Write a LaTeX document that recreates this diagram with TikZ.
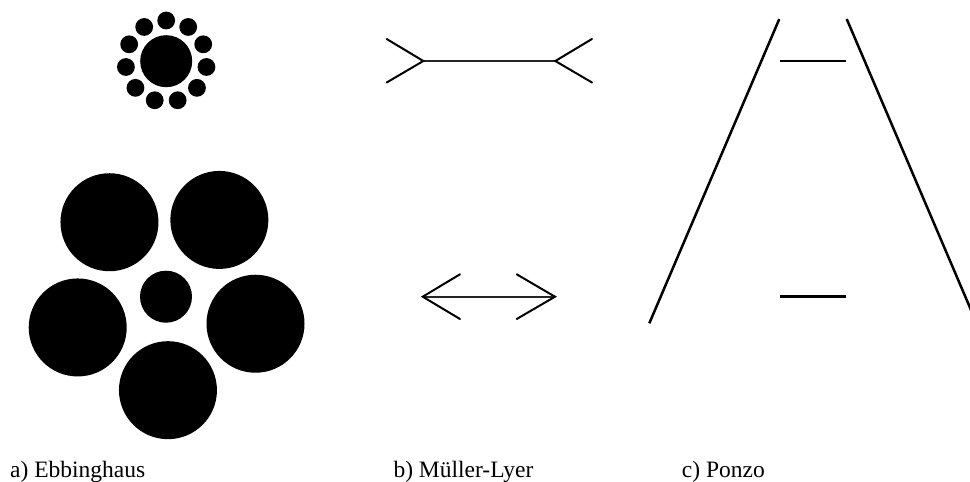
\documentclass[tikz,border=0pt]{standalone}
\usepackage{fontspec}
\setmainfont{Liberation Serif}
\begin{document}
\begin{tikzpicture}[x=1pt,y=-1pt,
  fig/.style={line width=2pt,line cap=round},
  shaft/.style={line width=1.8pt,black!85},
  bar/.style={line width=2.5pt},
  lbl/.style={anchor=base west,inner sep=0pt,font=\fontsize{23.5}{28}\selectfont}]
\useasboundingbox (0,0) rectangle (970,482);
\clip (0,0) rectangle (970,482);
% a) Ebbinghaus, small surround
\fill (166.2,61.2) circle (26);
\foreach \k in {0,...,10}{
  \fill (166.2,61.2) ++({-90+\k*360/11}:{40.7}) circle (8.9);
}
% a) Ebbinghaus, large surround
\fill (166,296.7) circle (26);
\foreach \k in {0,...,4}{
  \fill (166,296.7) ++({88.8-\k*72}:{93.5}) circle (49);
}
% b) Mueller-Lyer, upper (fins out)
\coordinate (ua) at (423.3,61);
\coordinate (ub) at (555.3,61);
\draw[shaft] (ua) -- (ub);
\draw[fig] (386.7,39) -- (ua) -- (386.7,82.5);
\draw[fig] (592,39) -- (ub) -- (592,82.5);
% b) Mueller-Lyer, lower (fins in)
\coordinate (la) at (422.7,296.7);
\coordinate (lb) at (555,296.7);
\draw[shaft] (la) -- (lb);
\draw[fig] (460,274.3) -- (la) -- (460,319);
\draw[fig] (516.7,274.3) -- (lb) -- (516.7,319);
% c) Ponzo
\draw[bar] (779.3,19) -- (649.3,323.3);
\draw[bar] (846.7,19) -- (976.7,323.3);
\draw[bar] (780,61) -- (846,61);
\draw[bar] (780,296.7) -- (846,296.7);
% labels
\node[lbl] (la1) at (10,477.5) {a) Ebbinghaus};
\node[lbl] (lb1) at (393.3,477.5) {b) Müller-Lyer};
\node[lbl] (lc1) at (681.7,477.5) {c) Ponzo};
\end{tikzpicture}
\end{document}
